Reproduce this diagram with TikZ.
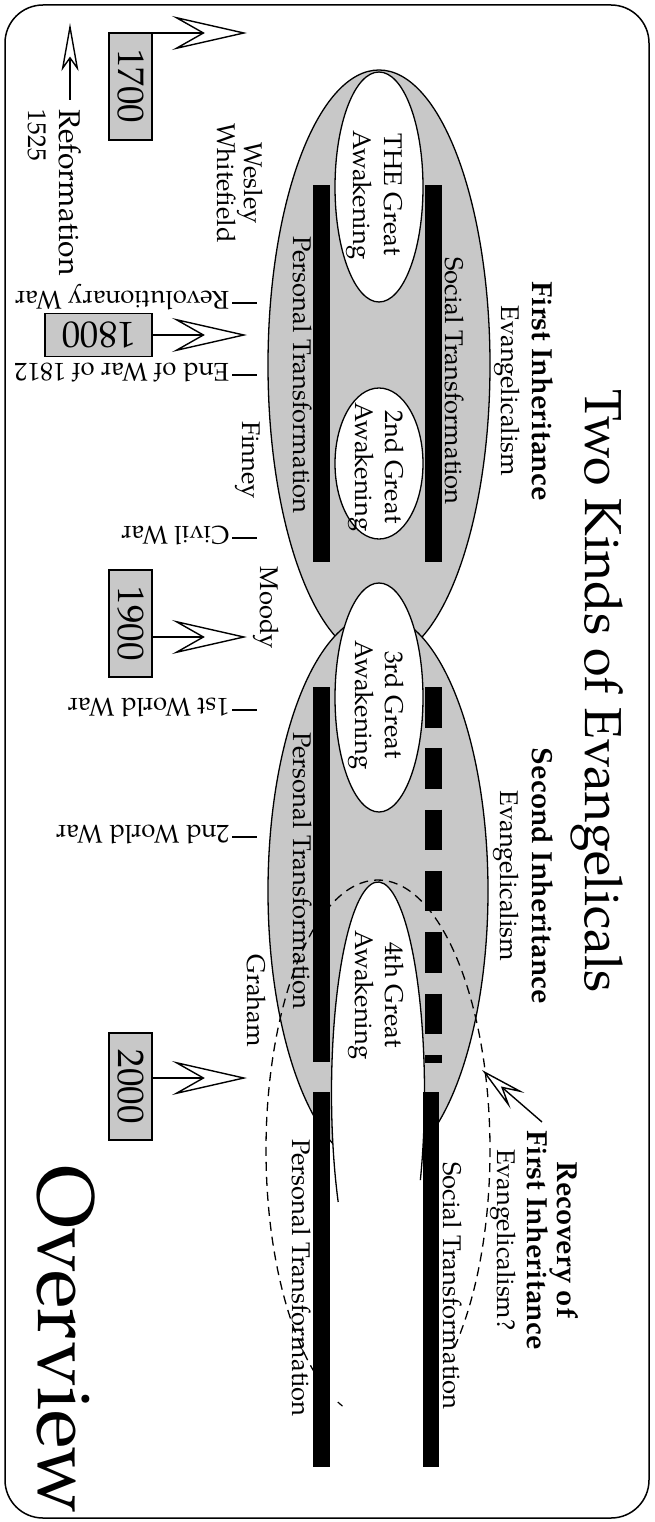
\documentclass[tikz,border=0pt]{standalone}
\usepackage{fontspec}
\setmainfont{TeX Gyre Pagella}
\usetikzlibrary{arrows.meta}
\definecolor{shade}{RGB}{200,200,200}
\begin{document}
\begin{tikzpicture}[x=1pt,y=1pt,
  txt/.style={inner sep=0pt, outer sep=0pt, font=\fontsize{25.6}{30}\selectfont},
  dn/.style={txt, rotate=-90},
  updown/.style={txt, rotate=180},
  ell/.style={draw=black, line width=1.3pt},
  yearbox/.style={draw=black, line width=1.3pt, fill=shade, inner sep=0pt, outer sep=0pt,
     font=\fontsize{37}{40}\selectfont, minimum width=107pt, minimum height=43pt},
  bigarrow/.style={line width=1.4pt, -{Stealth[open, length=75pt, width=34pt, inset=30pt]}},
  smallarrow/.style={line width=1.4pt, -{Stealth[open, length=47pt, width=21pt, inset=19pt]}},
  refarrow/.style={line width=1.4pt, -{Stealth[open, length=48pt, width=17pt, inset=12pt]}},
  tickline/.style={line width=1.4pt},
  dashline/.style={line width=1.3pt, dash pattern=on 9pt off 6pt}
]
\useasboundingbox (0,0) rectangle (655,-1522);
\draw[line width=1.5pt, rounded corners=38pt] (5,-5) rectangle (649,-1518);

% inheritance regions
\draw[ell, fill=shade] (379,-365) ellipse [x radius=111, y radius=295];
\draw[ell, fill=shade] (378,-891) ellipse [x radius=110, y radius=277];

% awakenings
\draw[ell, fill=white] (379,-187) ellipse [x radius=44, y radius=115];
\draw[ell, fill=white] (379,-463.5) ellipse [x radius=44, y radius=75.5];
\draw[ell, fill=white] (379,-697.5) ellipse [x radius=44, y radius=114.5];
\fill[white] (378,-1093) ellipse [x radius=46.5, y radius=211];

% bars
\fill (313,-185) rectangle (330,-562);
\fill (425,-185) rectangle (442,-562);
\fill (313,-687) rectangle (330,-1062);
\draw[line width=17pt, dash pattern=on 40.5pt off 20.8pt] (433.5,-687) -- (433.5,-1063);
\fill (313,-1092) rectangle (330,-1467);
\fill (423,-1092) rectangle (439,-1467);

% 4th awakening outline
\draw[ell] (378,-1093) ++(-24.4:46.5 and 211) arc[start angle=-24.4, end angle=211.1, x radius=46.5, y radius=211];

% recovery dashed region
\draw[dashline] (378,-1150) ++(-47:112 and 270) arc[start angle=-47, end angle=236, x radius=112, y radius=270];
\draw[line width=1.2pt] (378,-1150) ++(249:112 and 270) arc[start angle=249, end angle=251.5, x radius=112, y radius=270];

% titles
\node[dn, anchor=base, font=\fontsize{52}{56}\selectfont] (title) at (585,-691) {Two Kinds of Evangelicals};
\node[dn, anchor=base, font=\fontsize{80}{84}\selectfont] (overview) at (38,-1340) {Overview};

% inheritance labels
\node[dn, align=center, font=\fontsize{25.6}{31}\selectfont] (inh1) at (523.4,-391) {{\bfseries\fontsize{29}{31}\selectfont First Inheritance}\\Evangelicalism};
\node[dn, align=center, font=\fontsize{25.6}{32}\selectfont] (inh2) at (522.9,-876) {{\bfseries\fontsize{29}{32}\selectfont Second Inheritance}\\Evangelicalism};
\node[dn, align=center, font=\fontsize{25.6}{30}\selectfont] (recov) at (533.9,-1240) {{\bfseries\fontsize{29}{30}\selectfont Recovery of}\\{\bfseries\fontsize{29}{30}\selectfont First Inheritance}\\Evangelicalism?};

% bar labels
\node[dn, anchor=base] (socU) at (445,-381) {Social Transformation};
\node[dn, anchor=base] (perU) at (293,-375) {Personal Transformation};
\node[dn, anchor=base] (perM) at (293,-871) {Personal Transformation};
\node[dn, anchor=base] (perL) at (292,-1278) {Personal Transformation};
\node[dn, anchor=base] (socL) at (443,-1286) {Social Transformation};

% awakening labels
\node[dn, align=center, font=\fontsize{25.6}{31}\selectfont] (aw1) at (374.7,-195) {THE Great\\Awakening};
\node[dn, align=center] (aw2) at (375.7,-467) {2nd Great\\Awakening};
\node[dn, align=center] (aw3) at (375.7,-705) {3rd Great\\Awakening};
\node[dn, align=center] (aw4) at (375.7,-995) {4th Great\\Awakening};

% people
\node[dn, align=center, font=\fontsize{25.6}{25}\selectfont] (wes) at (239.9,-183) {Wesley\\Whitefield};
\node[dn, anchor=base] (fin) at (242,-460) {Finney};
\node[dn, anchor=base] (moo) at (260,-608) {Moody};
\node[dn, anchor=base] (gra) at (247,-1001) {Graham};

% reformation
\node[dn, align=left, anchor=west, font=\fontsize{25.6}{31}\selectfont] (ref) at (54.5,-110) {{\fontsize{30}{31}\selectfont Reformation}\\1525};
\coordinate (refA) at (70,-100);
\coordinate (refB) at (70,-23);
\draw[refarrow] (refA) -- (refB);

% year boxes
\node[yearbox, rotate=-90] (b1700) at (130.5,-86.5) {1700};
\node[yearbox, rotate=180] (b1800) at (98.5,-335) {1800};
\node[yearbox, rotate=-90] (b1900) at (130.5,-623.5) {1900};
\node[yearbox, rotate=-90] (b2000) at (130.5,-1086.5) {2000};
\coordinate (t1700) at (247,-33);
\coordinate (t1800) at (247,-335);
\coordinate (t1900) at (247,-637);
\coordinate (t2000) at (247,-1078);
\draw[bigarrow] (b1700.north |- t1700) -- (t1700);
\draw[bigarrow] (b1800.west) -- (t1800);
\draw[bigarrow] (b1900.north |- t1900) -- (t1900);
\draw[bigarrow] (b2000.north |- t2000) -- (t2000);

% events
\node[updown, anchor=base west] (rev) at (229,-291) {Revolutionary War};
\node[updown, anchor=base west] (w1812) at (229,-363) {End of War of 1812};
\node[updown, anchor=base west] (civ) at (229,-526) {Civil War};
\node[updown, anchor=base west] (ww1) at (229,-698) {1st World War};
\node[updown, anchor=base west] (ww2) at (229,-825) {2nd World War};
\foreach \e in {rev,w1812,civ,ww1,ww2}{
  \draw[tickline] ([shift={(3,-12)}]\e.base west) -- ++(25,0);
}

% recovery arrow
\coordinate (recA) at (542,-1122);
\coordinate (recB) at (482,-1070);
\draw[smallarrow] (recA) -- (recB);
\end{tikzpicture}
\end{document}
